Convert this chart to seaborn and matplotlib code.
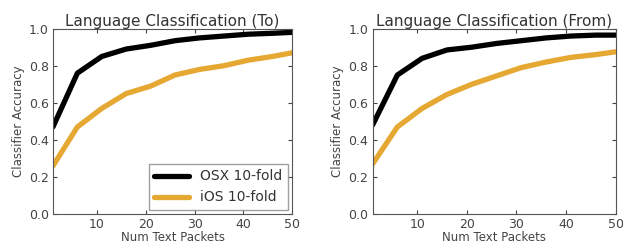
import numpy as np
import pandas as pd
import matplotlib
matplotlib.use("Agg")
import matplotlib.pyplot as plt
import seaborn as sns

# Datos
paquetes = [1, 6, 11, 16, 21, 26, 31, 36, 41, 46, 50]
osx_to = [0.47, 0.76, 0.85, 0.89, 0.91, 0.935, 0.95, 0.96, 0.97, 0.975, 0.98]
ios_to = [0.26, 0.47, 0.57, 0.65, 0.69, 0.75, 0.78, 0.80, 0.83, 0.85, 0.87]
osx_from = [0.48, 0.75, 0.84, 0.885, 0.90, 0.92, 0.935, 0.95, 0.96, 0.965, 0.965]
ios_from = [0.27, 0.47, 0.57, 0.645, 0.70, 0.745, 0.79, 0.82, 0.845, 0.86, 0.875]
series = ["OSX 10-fold", "iOS 10-fold"]
titulos = ["Language Classification (To)", "Language Classification (From)"]

sns.set_style("ticks")
plt.rcParams["font.family"] = ["DejaVu Sans"]
plt.rcParams["xtick.direction"] = "in"
plt.rcParams["ytick.direction"] = "in"

colores = {"OSX 10-fold": "black", "iOS 10-fold": "#E5A832"}

fig, axes = plt.subplots(1, 2, figsize=(6.23, 2.49), dpi=100)
datos = [(osx_to, ios_to), (osx_from, ios_from)]
for i, (ax, (osx, ios)) in enumerate(zip(axes, datos)):
    df = pd.DataFrame({
        "x": paquetes * 2,
        "y": osx + ios,
        "serie": [series[0]] * len(paquetes) + [series[1]] * len(paquetes),
    })
    sns.lineplot(data=df, x="x", y="y", hue="serie", palette=colores,
                 linewidth=3.8, ax=ax, legend=(i == 0))
    ax.set_xlim(1, 50)
    ax.set_ylim(0, 1.0)
    ax.set_xticks([10, 20, 30, 40, 50])
    ax.set_yticks([0.0, 0.2, 0.4, 0.6, 0.8, 1.0])
    ax.set_title(titulos[i], fontsize=11, color="#333333", pad=2)
    ax.set_xlabel("Num Text Packets", fontsize=8.5, color="#444444", labelpad=0)
    ax.set_ylabel("Classifier Accuracy", fontsize=8.5, color="#444444", labelpad=3)
    ax.tick_params(labelsize=9, colors="#444444", top=True, right=True, length=3, pad=3)
    for s in ax.spines.values():
        s.set_visible(True)
        s.set_color("#555555")
    if i == 0:
        leg = ax.legend(loc="lower right", fontsize=10, frameon=True,
                        fancybox=False, edgecolor="#888888", handlelength=2.5,
                        borderaxespad=0.3)
        for t in leg.get_texts():
            t.set_color("#333333")

fig.canvas.draw()
axes[0].set_position([0.085, 0.14, 0.384, 0.745])
axes[1].set_position([0.598, 0.14, 0.39, 0.745])
fig.savefig("out.png", dpi=100)
